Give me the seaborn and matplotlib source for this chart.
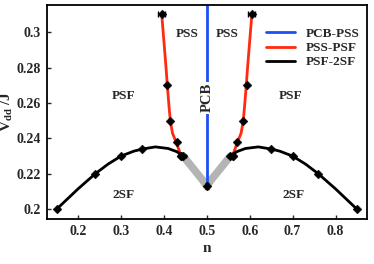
import matplotlib
matplotlib.use("Agg")
import matplotlib.pyplot as plt
import seaborn as sns
import pandas as pd
import numpy as np

sns.set_theme(style="ticks")
plt.rcParams['font.family'] = ['Liberation Serif', 'DejaVu Serif']
plt.rcParams['font.weight'] = 'bold'
plt.rcParams['mathtext.fontset'] = 'custom'
plt.rcParams['mathtext.rm'] = 'Liberation Serif:bold'
plt.rcParams['mathtext.it'] = 'Liberation Serif:bold'
plt.rcParams['mathtext.bf'] = 'Liberation Serif:bold'

# PSF-2SF boundary (markers)
b_left_n = [0.15, 0.24, 0.30, 0.35, 0.44, 0.445]
b_left_v = [0.200, 0.220, 0.230, 0.234, 0.230, 0.230]
b_right_n = [0.555, 0.56, 0.65, 0.70, 0.76, 0.85]
b_right_v = [0.230, 0.230, 0.234, 0.230, 0.220, 0.200]
# traced smooth line
bl_line_n = [0.15, 0.20, 0.24, 0.27, 0.30, 0.33, 0.35, 0.38, 0.41, 0.43, 0.445]
bl_line_v = [0.200, 0.2115, 0.220, 0.2255, 0.230, 0.2328, 0.2340, 0.2352, 0.2343, 0.2325, 0.2300]
br_line_n = [0.555, 0.57, 0.59, 0.62, 0.65, 0.67, 0.70, 0.73, 0.76, 0.80, 0.85]
br_line_v = [0.2300, 0.2325, 0.2343, 0.2352, 0.2340, 0.2328, 0.230, 0.2255, 0.220, 0.2115, 0.200]

# PSS-PSF boundary (markers)
r_left_n = [0.395, 0.408, 0.415, 0.430, 0.440]
r_left_v = [0.310, 0.270, 0.250, 0.238, 0.230]
r_right_n = [0.605, 0.593, 0.585, 0.570, 0.560]
r_right_v = [0.310, 0.270, 0.250, 0.238, 0.230]
rl_line_n = [0.395, 0.400, 0.405, 0.408, 0.412, 0.415, 0.420, 0.430, 0.440]
rl_line_v = [0.310, 0.295, 0.280, 0.270, 0.258, 0.250, 0.243, 0.237, 0.230]
rr_line_n = [0.605, 0.600, 0.595, 0.592, 0.588, 0.585, 0.580, 0.570, 0.560]
rr_line_v = [0.310, 0.295, 0.280, 0.270, 0.258, 0.250, 0.243, 0.237, 0.230]

# PCB-PSS boundary
pcb_n = [0.5, 0.5]
pcb_v = [0.213, 0.316]

# gray crossover bands
g_left_n = [0.445, 0.46, 0.475, 0.49, 0.5]
g_left_v = [0.230, 0.2255, 0.221, 0.2165, 0.213]
g_right_n = [0.555, 0.54, 0.525, 0.51, 0.5]
g_right_v = [0.230, 0.2255, 0.221, 0.2165, 0.213]

fig, ax = plt.subplots(figsize=(3.74, 2.64), dpi=100)
fig.subplots_adjust(left=0.125, right=0.982, top=0.982, bottom=0.17)

for gn, gv in [(g_left_n, g_left_v), (g_right_n, g_right_v)]:
    ax.plot(gn, gv, color='#b4b4b4', lw=5.5, solid_capstyle='round', zorder=1)

kw = dict(ax=ax, sort=False, estimator=None, lw=2)
sns.lineplot(x=pcb_n, y=pcb_v, color='#1f4ff0', label='PCB-PSS', zorder=2, **kw)
sns.lineplot(x=rl_line_n, y=rl_line_v, color='#ff2a10', label='PSS-PSF', zorder=3, **kw)
sns.lineplot(x=rr_line_n, y=rr_line_v, color='#ff2a10', zorder=3, **kw)
sns.lineplot(x=bl_line_n, y=bl_line_v, color='black', label='PSF-2SF', zorder=3, **kw)
sns.lineplot(x=br_line_n, y=br_line_v, color='black', zorder=3, **kw)

mk_n = b_left_n + b_right_n + r_left_n + r_right_n + [0.5]
mk_v = b_left_v + b_right_v + r_left_v + r_right_v + [0.213]
sns.scatterplot(x=mk_n, y=mk_v, color='black', marker='D', s=20, ax=ax, zorder=5, edgecolor='black')

ax.errorbar([0.395, 0.605], [0.310, 0.310], xerr=0.008, fmt='none', ecolor='black', elinewidth=0.8, capsize=2, zorder=5)
ax.errorbar([0.5], [0.213], yerr=0.0018, fmt='none', ecolor='black', elinewidth=0.8, capsize=1.5, zorder=5)
ax.errorbar([0.445, 0.555], [0.230, 0.230], xerr=0.006, fmt='none', ecolor='black', elinewidth=0.8, capsize=1.5, zorder=5)

ax.text(0.5, 0.263, 'PCB', rotation=90, ha='center', va='center', fontsize=10.5, fontweight='bold',
        bbox=dict(facecolor='white', edgecolor='none', pad=1), zorder=4)
for tx, ty, s in [(0.455, 0.299, 'PSS'), (0.548, 0.299, 'PSS'), (0.305, 0.264, 'PSF'),
                  (0.696, 0.264, 'PSF'), (0.305, 0.208, '2SF'), (0.703, 0.208, '2SF')]:
    ax.text(tx, ty, s, ha='center', va='center', fontsize=9.5, fontweight='bold')

ax.set_xlim(0.127, 0.874)
ax.set_ylim(0.1944, 0.3155)
ax.set_xticks([0.2, 0.3, 0.4, 0.5, 0.6, 0.7, 0.8])
ax.set_xticklabels(['0.2', '0.3', '0.4', '0.5', '0.6', '0.7', '0.8'], fontweight='bold', fontsize=10)
ax.set_yticks([0.2, 0.22, 0.24, 0.26, 0.28, 0.3])
ax.set_yticklabels(['0.2', '0.22', '0.24', '0.26', '0.28', '0.3'], fontweight='bold', fontsize=10)
ax.tick_params(direction='in', length=3, width=1, pad=4, top=False, right=False)
for sp in ax.spines.values():
    sp.set_linewidth(1.3)
    sp.set_color('black')
ax.set_xlabel('n', fontsize=11, fontweight='bold', labelpad=3)
ax.set_ylabel(r'V$_{dd}$ /J', fontsize=11, fontweight='bold')
ax.yaxis.set_label_coords(-0.098, 0.5)

leg = ax.legend(loc='upper right', frameon=False, fontsize=9.5, handlelength=2.2,
                borderaxespad=0.2, bbox_to_anchor=(1.0, 0.93), labelspacing=0.15)
for t in leg.get_texts():
    t.set_fontweight('bold')

fig.savefig('out.png', dpi=100)
